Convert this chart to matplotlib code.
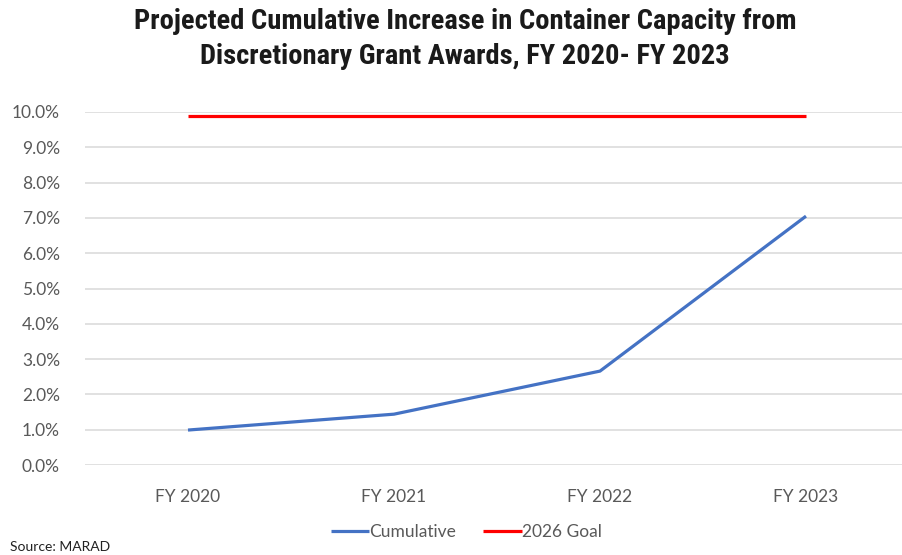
import matplotlib
matplotlib.use("Agg")
import matplotlib.pyplot as plt
from matplotlib.ticker import FuncFormatter

years = ["FY 2020", "FY 2021", "FY 2022", "FY 2023"]
cumulative = [0.0099, 0.0144, 0.0266, 0.0705]
goal = [0.099, 0.099, 0.099, 0.099]
y_ticks = [0.0, 0.01, 0.02, 0.03, 0.04, 0.05, 0.06, 0.07, 0.08, 0.09, 0.10]

body_font = ["Lato", "DejaVu Sans"]
title_font = ["Liberation Sans Narrow", "Roboto Condensed", "DejaVu Sans"]
grey = "#595959"

fig = plt.figure(figsize=(9.02, 5.55), dpi=100)
ax = fig.add_axes([85 / 902, 1 - 465 / 555, 824 / 902, (465 - 112) / 555])

x = list(range(len(years)))
ax.plot(x, cumulative, color="#4472C4", lw=2.3, label="Cumulative", solid_capstyle="butt")
ax.plot(x, goal, color="#FF0000", lw=2.3, label="2026 Goal", solid_capstyle="butt")

ax.set_xlim(-0.5, len(years) - 0.5)
ax.set_ylim(0, 0.10)
ax.set_yticks(y_ticks)
ax.yaxis.set_major_formatter(FuncFormatter(lambda v, _: f"{v * 100:.1f}%"))
ax.set_xticks(x)
ax.set_xticklabels(years)
ax.grid(axis="y", color="#D9D9D9", lw=1.1)
ax.set_axisbelow(True)
for s in ax.spines.values():
    s.set_visible(False)
ax.tick_params(length=0, colors=grey, labelsize=12.5)
ax.tick_params(axis="y", pad=18)
ax.tick_params(axis="x", pad=17)
for lbl in ax.get_xticklabels() + ax.get_yticklabels():
    lbl.set_fontfamily(body_font)

leg = fig.legend(loc="center", bbox_to_anchor=(466 / 902, 1 - 532 / 555), ncol=2,
                 frameon=False, handlelength=2.2, handletextpad=0.0, columnspacing=1.6,
                 prop={"family": body_font, "size": 12.5})
for t in leg.get_texts():
    t.set_color(grey)

fig.text(465 / 902, 1 - 39 / 555,
         "Projected Cumulative Increase in Container Capacity from\nDiscretionary Grant Awards, FY 2020- FY 2023",
         ha="center", va="center", fontsize=20.5, fontweight="bold",
         family=title_font, color="#1a1a1a", linespacing=1.4)

fig.text(10 / 902, 1 - 547 / 555, "Source: MARAD", ha="left", va="center",
         fontsize=10, family=body_font, color="#222222")

fig.savefig("out.png", dpi=100)
